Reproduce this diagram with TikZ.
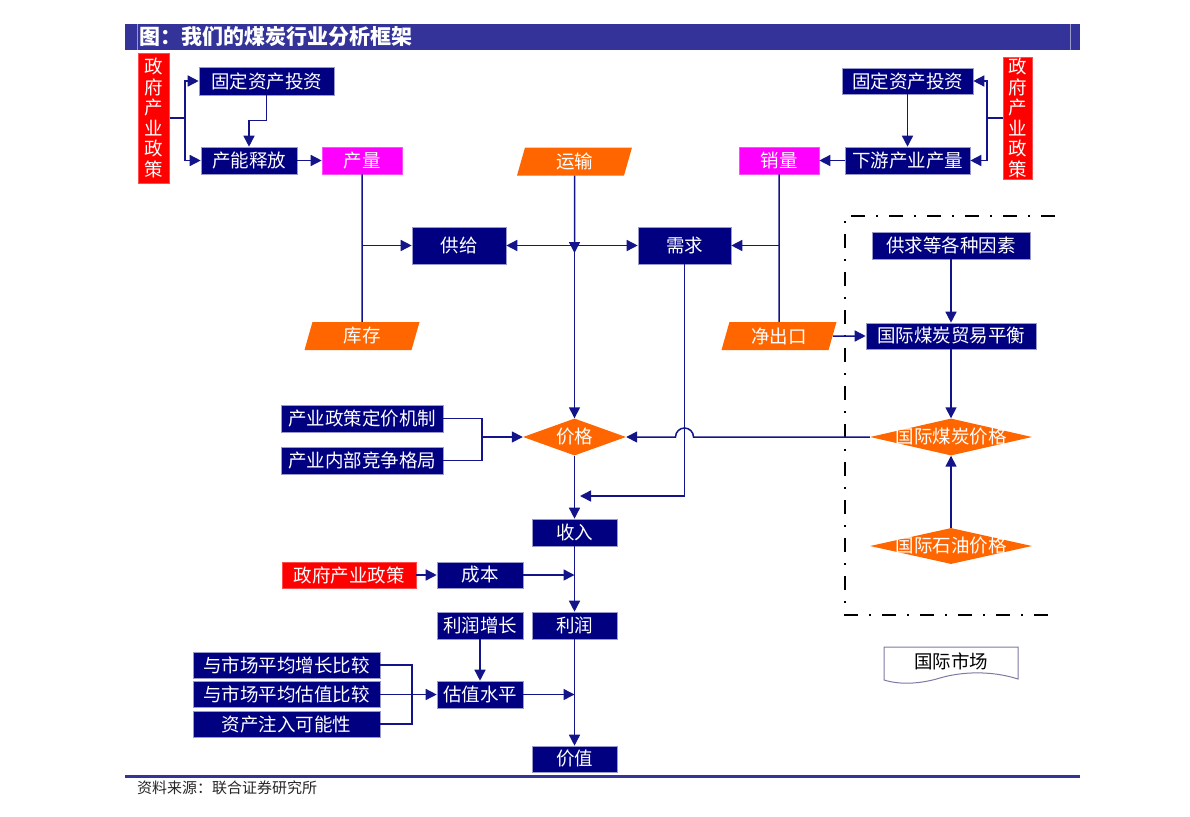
\documentclass[tikz,border=0pt]{standalone}
\usepackage{fontspec}
\setmainfont{Noto Sans CJK SC}
\usetikzlibrary{shapes.geometric,arrows.meta}
\definecolor{boxblue}{HTML}{000080}
\definecolor{edgeblue}{HTML}{9999CC}
\definecolor{lineblue}{HTML}{14148A}
\definecolor{barblue}{HTML}{333399}
\definecolor{orng}{HTML}{FF6600}
\definecolor{pinkbox}{HTML}{FF00FF}
\definecolor{redbox}{HTML}{FF0000}
\tikzset{
  nbox/.style={rectangle, fill=boxblue, draw=edgeblue, line width=0.6, text=white,
    inner sep=0, minimum height=27, font=\fontsize{18.5}{20.5}\selectfont},
  mbox/.style={nbox, fill=pinkbox, draw=pinkbox!70},
  rbox/.style={nbox, fill=redbox, draw=redbox!70, align=center},
  para/.style={trapezium, trapezium left angle=65, trapezium right angle=115,
    trapezium stretches body, fill=orng, text=white, inner sep=0,
    minimum height=28, minimum width=115, font=\fontsize{18.5}{20.5}\selectfont},
  diam/.style={diamond, fill=orng, text=white, inner sep=0, aspect=2.8,
    font=\fontsize{18.5}{20.5}\selectfont},
  line/.style={draw=lineblue, line width=1.5},
  arr/.style={line, -{Triangle[length=11pt,width=11pt]}},
  arr2/.style={line, {Triangle[length=11pt,width=11pt]}-{Triangle[length=11pt,width=11pt]}}
}
\begin{document}
\begin{tikzpicture}[x=1pt,y=-1pt]
        \useasboundingbox (0,0) rectangle (1190,816);
        % Draw title bar
        \fill[barblue] (125,24) rectangle (1080,50);
        \draw[edgeblue, line width=0.8] (137,24) -- (137,50) (1070,24) -- (1070,50);
        \node[anchor=west, text=white, inner sep=0, font=\fontsize{21}{23}\bfseries] (title) at (139,37) {图：我们的煤炭行业分析框架};
        % Draw footer
        \draw[barblue, line width=3] (125,776) -- (1080,776);
        \node[anchor=west, text=black!85, inner sep=0, font=\fontsize{15}{17}\selectfont] (src) at (137,788) {资料来源：联合证券研究所};

        % Draw supply side
        \node[rbox, minimum width=31, minimum height=130] (polL) at (154,118) {政\\府\\产\\业\\政\\策};
        \node[nbox, minimum width=135, minimum height=28] (invL) at (266.5,81) {固定资产投资};
        \node[nbox, minimum width=96] (capL) at (249,160.5) {产能释放};
        \node[mbox, minimum width=80] (outp) at (362,160.5) {产量};
        \node[para] (stock) at (362,336) {库存};
        \node[nbox, minimum width=94, minimum height=37] (supp) at (459,245.5) {供给};
        % Draw demand side
        \node[rbox, minimum width=29, minimum height=122] (polR) at (1017.5,118) {政\\府\\产\\业\\政\\策};
        \node[nbox, minimum width=131, minimum height=26] (invR) at (907.5,81) {固定资产投资};
        \node[nbox, minimum width=125] (downR) at (907.5,160.5) {下游产业产量};
        \node[mbox, minimum width=80] (sales) at (779,160.5) {销量};
        \node[para] (netx) at (779,336) {净出口};
        \node[nbox, minimum width=93, minimum height=37] (dem) at (684.5,245.5) {需求};
        \node[para] (trans) at (574.5,161.5) {运输};
        \coordinate (hub) at (574.5,245.5);
        \coordinate (hubt) at (574.5,253);

        % Draw price and earnings chain
        \node[diam, minimum width=103, minimum height=37] (price) at (574.5,437) {\makebox[0pt]{价格}};
        \node[nbox, minimum width=162] (pol1) at (362,418.5) {产业政策定价机制};
        \node[nbox, minimum width=162] (pol2) at (362,460.5) {产业内部竞争格局};
        \coordinate (polj) at (482,437);
        \node[nbox, minimum width=85] (inc) at (574.5,532.5) {收入};
        \coordinate (incj) at (580,496);
        \node[rbox, minimum width=134, minimum height=26] (gov) at (349,575) {政府产业政策};
        \node[nbox, minimum width=86, minimum height=26] (cost) at (480,575) {成本};
        \node[nbox, minimum width=85] (prof) at (574.5,625.5) {利润};
        \node[nbox, minimum width=86] (grow) at (480,625.5) {利润增长};
        \node[nbox, minimum width=86] (val) at (480,694.5) {估值水平};
        \node[nbox, minimum width=187, minimum height=26] (cmp1) at (286.5,665) {与市场平均增长比较};
        \node[nbox, minimum width=187, minimum height=26] (cmp2) at (286.5,694.5) {与市场平均估值比较};
        \node[nbox, minimum width=187, minimum height=26] (inj) at (286.5,724) {资产注入可能性};
        \coordinate (cmpj) at (412,694.5);
        \node[nbox, minimum width=85, minimum height=26] (worth) at (574.5,759) {价值};

        % Draw international market
        \draw[black, line width=2, dash pattern=on 14pt off 11pt on 2pt off 11pt] (1055,216) -- (845,216) -- (845,615) -- (1050,615);
        \node[nbox, minimum width=158] (sd) at (951,245.5) {供求等各种因素};
        \node[nbox, minimum width=170, minimum height=26] (bal) at (951,336) {国际煤炭贸易平衡};
        \node[diam, minimum width=162, minimum height=37] (icp) at (951,437) {\makebox[0pt]{国际煤炭价格}};
        \node[diam, minimum width=162, minimum height=36] (iop) at (951,546) {\makebox[0pt]{国际石油价格}};
        \draw[edgeblue!80!black, line width=1] (884,647) -- (1018,647) -- (1018,679)
          .. controls (990,670) and (960,672) .. (940,678) .. controls (920,684) and (900,685) .. (884,680) -- cycle;
        \node[text=black, inner sep=0, font=\fontsize{18.5}{20.5}\selectfont] (mkt) at (951,661) {国际市场};
        \coordinate (hump) at (dem.south |- price);

        % Draw connectors
        \coordinate (polLj) at (185,118);
        \draw[line] (polL.east |- polLj) -- (polLj);
        \draw[arr] (polLj) |- (invL);
        \draw[arr] (polLj) |- (capL);
        \draw[arr] (invL.south) -- ++(0,25) -| (capL.north);
        \draw[arr] (capL) -- (outp);
        \coordinate (polRj) at (987,118);
        \draw[line] (polR.west |- polRj) -- (polRj);
        \draw[arr] (polRj) |- (invR);
        \draw[arr] (polRj) |- (downR);
        \draw[arr] (invR) -- (downR);
        \draw[arr] (downR) -- (sales);
        \draw[line] (outp) -- (stock);
        \draw[arr] (outp.south |- supp) -- (supp);
        \draw[line] (sales) -- (netx);
        \draw[arr] (sales.south |- dem) -- (dem);
        \draw[arr2] (supp) -- (dem);
        \draw[arr] (trans) -- (hubt);
        \draw[arr] (hub) -- (price);
        \draw[arr] (dem) |- (incj);
        \draw[arr] (icp.west) -- ([xshift=9pt]hump) arc[start angle=0, end angle=-180, radius=9] -- (price.east);
        \draw[line] (pol1.east) -| (polj);
        \draw[line] (pol2.east) -| (polj);
        \draw[arr] (polj) -- (price.west);
        \draw[arr] (price) -- (inc);
        \draw[arr] (gov) -- (cost);
        \draw[arr] (cost) -- (cost -| inc);
        \draw[arr] (inc) -- (prof);
        \draw[arr] (grow) -- (val);
        \draw[line] (cmp1.east) -| (cmpj);
        \draw[line] (inj.east) -| (cmpj);
        \draw[arr] (cmp2) -- (val);
        \draw[arr] (val) -- (val -| prof);
        \draw[arr] (prof) -- (worth);
        \draw[arr] (netx) -- (bal);
        \draw[arr] (sd) -- (bal);
        \draw[arr] (bal) -- (icp);
        \draw[arr] (iop) -- (icp);
    \end{tikzpicture}
\end{document}
